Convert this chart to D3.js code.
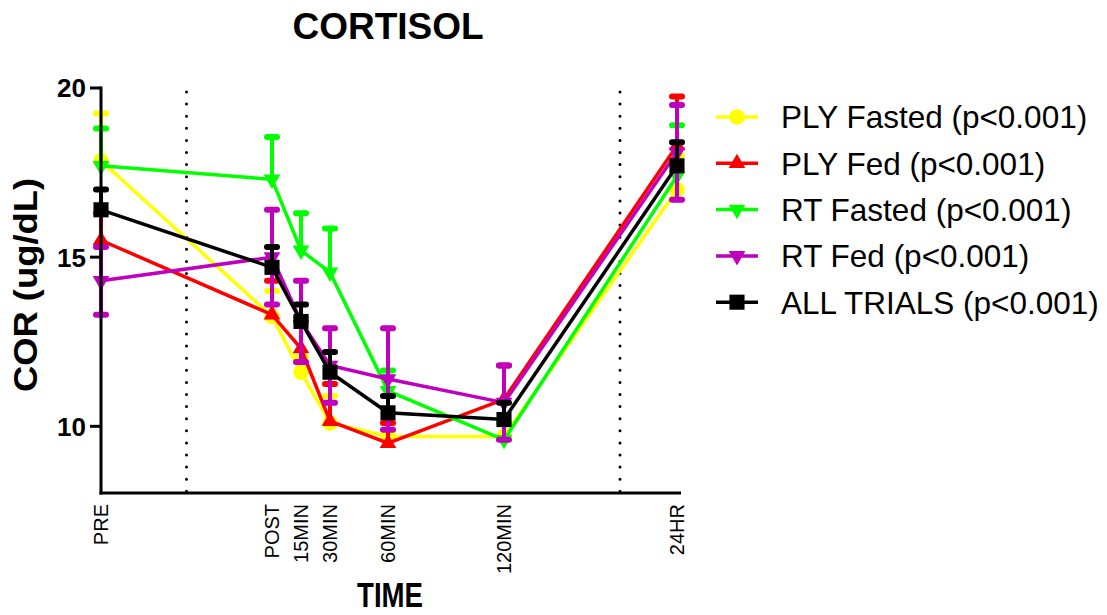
<!DOCTYPE html>
<html>
<head>
<meta charset="utf-8">
<script src="https://cdn.jsdelivr.net/npm/d3@7"></script>
<style>
  body { margin: 0; background: #fff; }
  text { font-family: Arial, "Liberation Sans", sans-serif; }
</style>
</head>
<body>
<script>
const width = 1107;
const height = 615;

// time points (minutes relative to end of exercise; PRE / 24HR sit on broken segments)
const categories = ['PRE', 'POST', '15MIN', '30MIN', '60MIN', '120MIN', '24HR'];
const minutes = [-60, 0, 15, 30, 60, 120, 1440];

const seriesNames = ['PLY Fasted (p<0.001)', 'PLY Fed (p<0.001)', 'RT Fasted (p<0.001)', 'RT Fed (p<0.001)', 'ALL TRIALS (p<0.001)'];
const seriesColors = ['#ffff00', '#ff0000', '#00ff00', '#bf00bf', '#000000'];
const seriesSymbols = ['circle', 'triangleUp', 'triangleDown', 'triangleDown', 'square'];
const seriesBars = ['up', 'up', 'up', 'both', 'up'];

const plyFasted = [17.85, 13.25, 11.6, 10.1, 9.7, 9.7, 17.0];
const plyFastedSem = [1.4, 0.75, 0.45, 0.8, 0.4, 0.4, 1.0];
const plyFed = [15.5, 13.3, 12.3, 10.15, 9.5, 10.8, 18.3];
const plyFedSem = [0.8, 1.0, 0.8, 1.1, 0.6, 1.0, 1.45];
const rtFasted = [17.7, 17.3, 15.2, 14.55, 11.05, 9.6, 17.4];
const rtFastedSem = [1.1, 1.25, 1.1, 1.3, 0.6, 0.5, 1.5];
const rtFed = [14.3, 15.0, 13.1, 11.8, 11.4, 10.7, 18.1];
const rtFedSem = [1.0, 1.4, 1.2, 1.1, 1.5, 1.1, 1.4];
const allTrials = [16.4, 14.7, 13.1, 11.6, 10.4, 10.2, 17.7];
const allTrialsSem = [0.6, 0.6, 0.5, 0.6, 0.5, 0.5, 0.7];

const seriesValues = [plyFasted, plyFed, rtFasted, rtFed, allTrials];
const seriesSems = [plyFastedSem, plyFedSem, rtFastedSem, rtFedSem, allTrialsSem];

const yTicks = [10, 15, 20];
const breakMinutes = [-30, 1005];

const margin = { left: 101, right: 681, top: 88, bottom: 493 };

const x = d3.scaleLinear()
  .domain([-60, 0, 120, 1440])
  .range([margin.left, 272, 504, 677]);

const y = d3.scaleLinear()
  .domain([8, 20])
  .range([margin.bottom + 1, margin.top]);

const svg = d3.select('body').append('svg')
  .attr('width', width)
  .attr('height', height)
  .attr('viewBox', [0, 0, width, height]);

function symbolPath(kind, size) {
  if (kind === 'circle') return d3.symbol(d3.symbolCircle, size * 1.6)();
  if (kind === 'square') return d3.symbol(d3.symbolSquare, size * 1.9)();
  return d3.symbol(d3.symbolTriangle, size)();
}

function symbolTransform(kind, px, py) {
  return `translate(${px},${py})` + (kind === 'triangleDown' ? ' rotate(180)' : '');
}

// title
svg.append('text')
  .attr('x', 388)
  .attr('y', 39)
  .attr('text-anchor', 'middle')
  .attr('font-size', 37)
  .attr('font-weight', 'bold')
  .text('CORTISOL');

// break markers
svg.append('g')
  .selectAll('line')
  .data(breakMinutes)
  .join('line')
    .attr('x1', d => x(d))
    .attr('x2', d => x(d))
    .attr('y1', margin.top + 4)
    .attr('y2', margin.bottom)
    .attr('stroke', '#000')
    .attr('stroke-width', 3)
    .attr('stroke-linecap', 'round')
    .attr('stroke-dasharray', '0 12.1');

// series
seriesValues.forEach((vals, s) => {
  const color = seriesColors[s];
  const sem = seriesSems[s];
  const both = seriesBars[s] === 'both';
  const g = svg.append('g');
  const pts = vals.map((v, i) => ({ t: minutes[i], v, e: sem[i] }));

  const bars = g.append('g').selectAll('g').data(pts).join('g');
  bars.append('line')
    .attr('x1', d => x(d.t)).attr('x2', d => x(d.t))
    .attr('y1', d => y(both ? d.v - d.e : d.v)).attr('y2', d => y(d.v + d.e))
    .attr('stroke', color).attr('stroke-width', 4);
  bars.selectAll('line.cap')
    .data(d => (both ? [d.v - d.e, d.v + d.e] : [d.v + d.e]).map(c => ({ t: d.t, c })))
    .join('line')
      .attr('class', 'cap')
      .attr('x1', d => x(d.t) - 5).attr('x2', d => x(d.t) + 5)
      .attr('y1', d => y(d.c)).attr('y2', d => y(d.c))
      .attr('stroke', color).attr('stroke-width', 6)
      .attr('stroke-linecap', 'round');

  g.append('path')
    .datum(pts)
    .attr('fill', 'none')
    .attr('stroke', color)
    .attr('stroke-width', 3.5)
    .attr('d', d3.line().x(d => x(d.t)).y(d => y(d.v)));

  g.append('g').selectAll('path').data(pts).join('path')
    .attr('d', symbolPath(seriesSymbols[s], 120))
    .attr('transform', d => symbolTransform(seriesSymbols[s], x(d.t), y(d.v)))
    .attr('fill', color);
});

// axes
const yAxis = svg.append('g').attr('transform', `translate(${margin.left},0)`);
yAxis.append('line')
  .attr('x1', 0).attr('x2', 0)
  .attr('y1', y(20) - 1.5).attr('y2', margin.bottom + 1.5)
  .attr('stroke', '#000').attr('stroke-width', 3);
yAxis.selectAll('line.tick')
  .data(yTicks)
  .join('line')
    .attr('class', 'tick')
    .attr('x1', -11).attr('x2', 0)
    .attr('y1', d => y(d)).attr('y2', d => y(d))
    .attr('stroke', '#000').attr('stroke-width', 3);
yAxis.selectAll('text')
  .data(yTicks)
  .join('text')
    .attr('x', -15)
    .attr('y', d => y(d))
    .attr('dy', '0.36em')
    .attr('text-anchor', 'end')
    .attr('font-size', 26)
    .attr('font-weight', 'bold')
    .text(d => d);

svg.append('line')
  .attr('x1', margin.left - 1.5).attr('x2', margin.right)
  .attr('y1', margin.bottom).attr('y2', margin.bottom)
  .attr('stroke', '#000').attr('stroke-width', 3);

svg.append('g')
  .selectAll('text')
  .data(categories)
  .join('text')
    .attr('transform', (d, i) => `translate(${x(minutes[i])},504) rotate(-90)`)
    .attr('dy', '0.36em')
    .attr('text-anchor', 'end')
    .attr('font-size', 20)
    .text(d => d);

svg.append('text')
  .attr('x', 390)
  .attr('y', 607)
  .attr('text-anchor', 'middle')
  .attr('font-size', 35)
  .attr('font-weight', 'bold')
  .attr('textLength', 66)
  .attr('lengthAdjust', 'spacingAndGlyphs')
  .text('TIME');

svg.append('text')
  .attr('transform', 'translate(37,285) rotate(-90)')
  .attr('text-anchor', 'middle')
  .attr('font-size', 33)
  .attr('font-weight', 'bold')
  .attr('textLength', 214)
  .attr('lengthAdjust', 'spacingAndGlyphs')
  .text('COR (ug/dL)');

// legend
const legend = svg.append('g')
  .selectAll('g')
  .data(seriesNames)
  .join('g')
    .attr('transform', (d, i) => `translate(737,${117 + i * 46.3})`);
legend.append('line')
  .attr('x1', -21).attr('x2', 21)
  .attr('stroke', (d, i) => seriesColors[i])
  .attr('stroke-width', 3.5);
legend.append('path')
  .attr('d', (d, i) => symbolPath(seriesSymbols[i], 120))
  .attr('transform', (d, i) => symbolTransform(seriesSymbols[i], 0, 0))
  .attr('fill', (d, i) => seriesColors[i]);
legend.append('text')
  .attr('x', 44)
  .attr('dy', '0.36em')
  .attr('font-size', 31.5)
  .text(d => d);
</script>
</body>
</html>
